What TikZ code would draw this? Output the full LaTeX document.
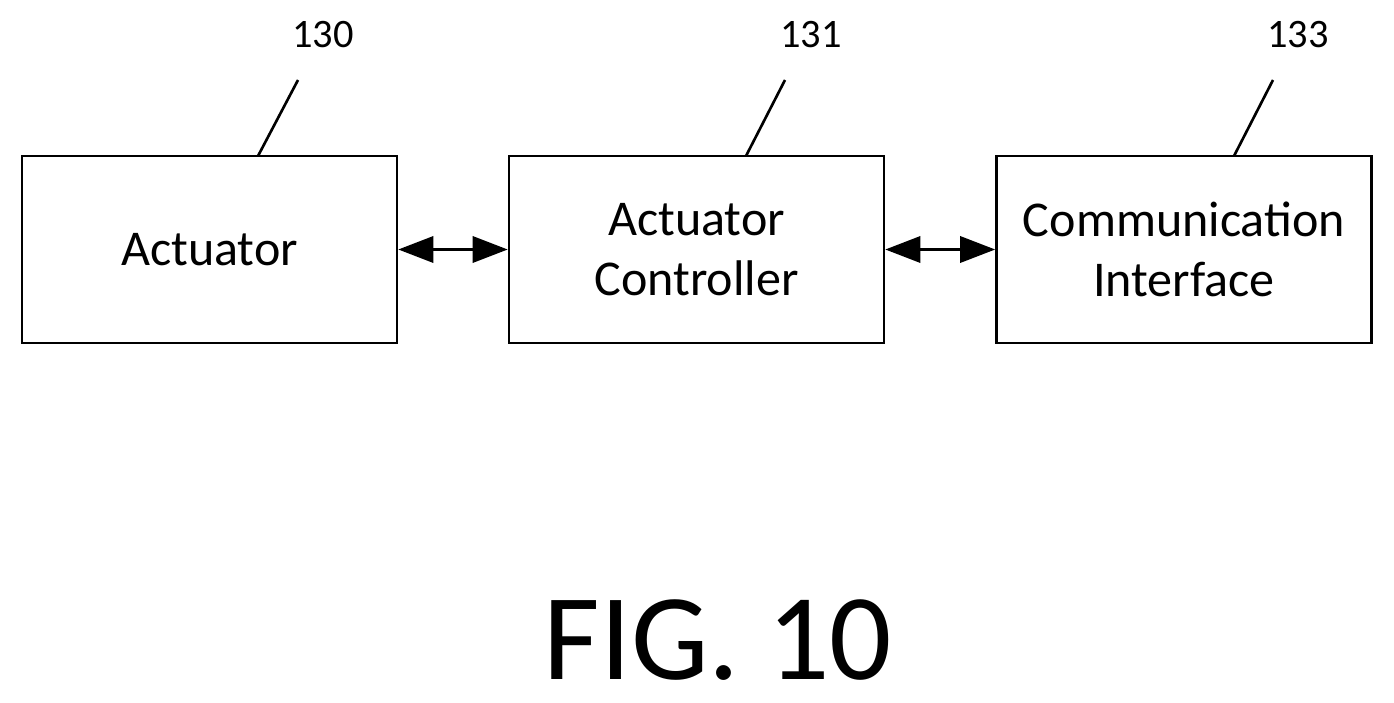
\documentclass[tikz,border=0pt]{standalone}
\usepackage{fontspec}
\setmainfont{Carlito}
\usetikzlibrary{arrows.meta}

\begin{document}
\begin{tikzpicture}[x=0.02cm, y=-0.02cm, >={Triangle[length=20pt,width=15pt]}]
    \tikzstyle{BlockStyle}=[draw, line width = 1.5pt,
                            minimum width  = 375*0.02cm,
                            minimum height = 187*0.02cm,
                            align = center,
                            font  = \fontsize{28.5}{34}\selectfont]
    \tikzstyle{RefStyle}=[font = \fontsize{23}{26}\selectfont]
    \tikzstyle{LinkStyle}=[<->, line width = 1.5pt]
    \useasboundingbox (0,0) rectangle (1394,703);
    \node[BlockStyle] (act)  at (209.5,249.5)  {Actuator};
    \node[BlockStyle] (ctrl) at (696.5,249.5)  {Actuator\\Controller};
    \node[BlockStyle] (comm) at (1184,249.5)   {Communication\\Interface};
    % reference numerals
    \node[RefStyle] (n130) at (323,35)  {130};
    \node[RefStyle] (n131) at (811,35)  {131};
    \node[RefStyle] (n133) at (1298,35) {133};
    \coordinate (t130) at (298,80);
    \coordinate (t131) at (785,80);
    \coordinate (t133) at (1273,80);
    \draw[line width=1.5pt] (t130) -- (258,156);
    \draw[line width=1.5pt] (t131) -- (746,156);
    \draw[line width=1.5pt] (t133) -- (1234,156);
    % links
    \draw[LinkStyle] (act.east)  -- (ctrl.west);
    \draw[LinkStyle] (ctrl.east) -- (comm.west);
    \node[font=\fontsize{70}{80}\selectfont, inner sep=0pt] (fig) at (718,640) {FIG. 10};
\end{tikzpicture}
\end{document}
